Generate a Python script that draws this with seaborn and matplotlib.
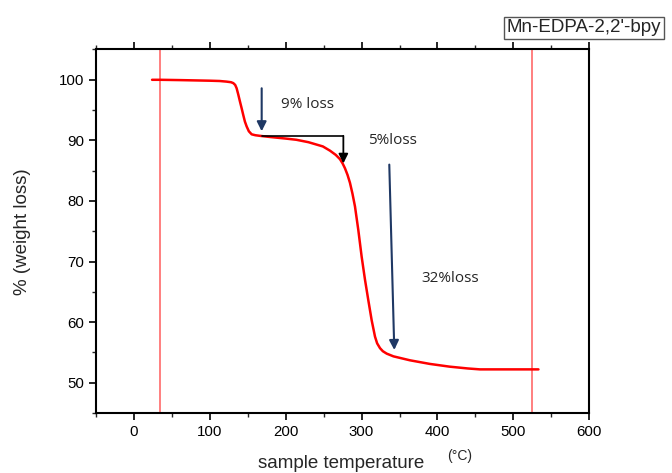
import matplotlib
matplotlib.use("Agg")
import matplotlib.pyplot as plt
import seaborn as sns
import pandas as pd

# ---- data ----
temperature = [24, 35, 60, 100, 113, 122, 128, 131, 133.5, 135.4, 137.5, 139.8, 142, 144.1,
               146.3, 148.6, 151.5, 155.2, 160, 166, 180, 200, 214, 230, 249, 258.4, 266,
               271.5, 275, 278.1, 281.5, 284.7, 288, 291.3, 295.7, 300.1, 304.5, 308.9,
               313.3, 317.7, 320.5, 324.3, 328, 333.1, 342, 363.7, 390, 416, 440, 456,
               490, 522, 533]
weight = [100.0, 100.0, 99.95, 99.85, 99.8, 99.7, 99.6, 99.45, 99.15, 98.6, 97.6, 96.4,
          95.3, 94.2, 93.1, 92.3, 91.5, 91.0, 90.85, 90.75, 90.55, 90.3, 90.1, 89.7,
          89.0, 88.3, 87.6, 86.9, 86.2, 85.4, 84.3, 83.0, 81.2, 79.1, 75.2, 70.8, 67.0,
          63.6, 60.3, 57.6, 56.5, 55.7, 55.2, 54.8, 54.35, 53.7, 53.1, 52.65, 52.35,
          52.2, 52.2, 52.2, 52.2]
cursor_lines = [35, 524]
x_ticks = [0, 100, 200, 300, 400, 500, 600]
y_ticks = [50, 60, 70, 80, 90, 100]
loss_labels = ["9% loss", "5%loss", "32%loss"]
title = "Mn-EDPA-2,2'-bpy"

df = pd.DataFrame({"temperature": temperature, "weight": weight})

sns.set_theme(style="ticks")
plt.rcParams["font.family"] = ["Liberation Sans", "DejaVu Sans"]

fig = plt.figure(figsize=(6.72, 4.73), dpi=100)
ax = fig.add_axes([95.9 / 672, 1 - 413 / 473, (589.3 - 95.9) / 672, (413 - 49.5) / 473])

for xv in cursor_lines:
    ax.axvline(xv, color="#ff6a6a", lw=1.2, zorder=1)

sns.lineplot(data=df, x="temperature", y="weight", sort=False, estimator=None,
             color="#ff0000", lw=1.8, ax=ax, zorder=3)

ax.set_xlim(-50, 600)
ax.set_ylim(45, 105)
ax.set_xticks(x_ticks)
ax.set_yticks(y_ticks)
ax.set_xticks(range(-50, 601, 50), minor=True)
ax.set_yticks(range(45, 106, 5), minor=True)
ax.tick_params(which="major", direction="out", length=5, width=1.2, labelsize=10.8,
               colors="black", top=True, right=False)
ax.tick_params(which="minor", direction="out", length=3, width=1.0, top=True, right=False)
ax.tick_params(axis="x", which="both", labeltop=False)
for s in ax.spines.values():
    s.set_linewidth(1.5)
    s.set_color("black")

ax.set_xlabel("")
ax.set_ylabel("% (weight loss)", fontsize=13.5, labelpad=20)
fig.text((256 + 427) / 2 / 672, 1 - 463 / 473, "sample temperature", fontsize=13.5,
         ha="center", va="center")
fig.text(447 / 672, 1 - 456 / 473, "(°C)", fontsize=10, ha="left", va="center")

navy = "#1f3864"
ax.annotate("", xy=(168.4, 91.5), xytext=(168.4, 98.6),
            arrowprops=dict(arrowstyle="-|>", color=navy, lw=1.5, mutation_scale=14,
                            shrinkA=0, shrinkB=0))
ax.plot([169, 276], [90.75, 90.75], color="black", lw=1.2, zorder=4)
ax.annotate("", xy=(276, 86.2), xytext=(276, 90.75),
            arrowprops=dict(arrowstyle="-|>", color="black", lw=1.3, mutation_scale=14,
                            shrinkA=0, shrinkB=0))
ax.annotate("", xy=(343.1, 55.4), xytext=(336.5, 86.0),
            arrowprops=dict(arrowstyle="-|>", color=navy, lw=1.5, mutation_scale=14,
                            shrinkA=0, shrinkB=0))

ann_font = ["Open Sans", "DejaVu Sans"]
ax.text(194, 95.9, loss_labels[0], fontsize=11, family=ann_font, va="center", ha="left")
ax.text(308, 89.9, loss_labels[1], fontsize=11, family=ann_font, va="center", ha="left")
ax.text(379, 67.2, loss_labels[2], fontsize=11, family=ann_font, va="center", ha="left")

fig.text(584 / 672, 1 - 28 / 473, title, fontsize=13.5, ha="center", va="center",
         bbox=dict(boxstyle="square,pad=0.15", fc="white", ec="#555555", lw=1))

fig.savefig("out.png", dpi=100)
